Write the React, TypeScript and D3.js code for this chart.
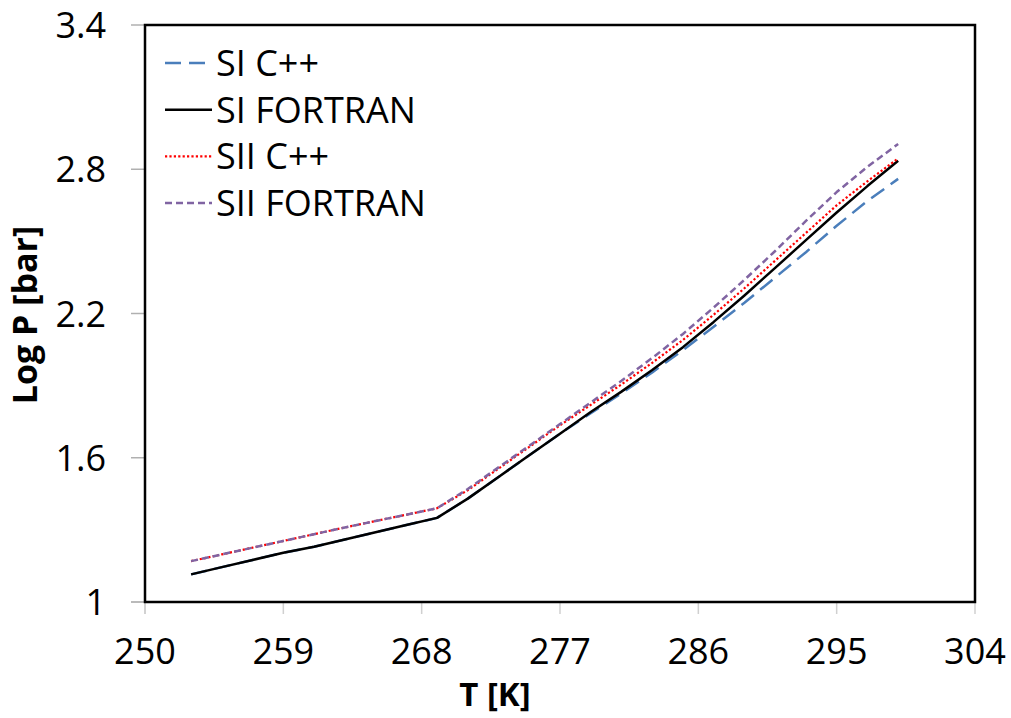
import React from "react";
import * as d3 from "d3";

const temps = [253, 255, 257, 259, 261, 263, 265, 267, 269, 271, 273, 275, 277, 279, 281, 283, 285, 287, 289, 291, 293, 295, 297, 299];

const siCpp = [1.115, 1.145, 1.175, 1.205, 1.230, 1.260, 1.290, 1.320, 1.350, 1.430, 1.520, 1.610, 1.700, 1.785, 1.868, 1.955, 2.048, 2.145, 2.245, 2.350, 2.455, 2.565, 2.668, 2.760];
const siFortran = [1.115, 1.145, 1.175, 1.205, 1.230, 1.260, 1.290, 1.320, 1.350, 1.430, 1.520, 1.610, 1.700, 1.790, 1.875, 1.965, 2.060, 2.165, 2.275, 2.390, 2.505, 2.620, 2.730, 2.835];
const siiCpp = [1.170, 1.198, 1.226, 1.254, 1.282, 1.310, 1.337, 1.363, 1.390, 1.465, 1.555, 1.645, 1.735, 1.820, 1.905, 1.995, 2.090, 2.195, 2.305, 2.420, 2.535, 2.650, 2.750, 2.845];
const siiFortran = [1.170, 1.198, 1.226, 1.254, 1.282, 1.310, 1.337, 1.363, 1.390, 1.470, 1.560, 1.650, 1.740, 1.830, 1.920, 2.015, 2.115, 2.225, 2.340, 2.460, 2.585, 2.705, 2.810, 2.905];

const seriesNames = ["SI C++", "SI FORTRAN", "SII C++", "SII FORTRAN"];
const xTicks = [250, 259, 268, 277, 286, 295, 304];
const yTicks = [1, 1.6, 2.2, 2.8, 3.4];

const styles = [
  { color: "#4A7EBB", dash: "16,8", width: 2.5 },
  { color: "#000000", dash: "", width: 2.5 },
  { color: "#FF0000", dash: "2.2,2.2", width: 2.2 },
  { color: "#8064A2", dash: "7,4", width: 2.5 },
];

const W = 1011, H = 718;
const L = 145, R = 975, T = 25, B = 602;
const FONT = "'Open Sans', 'Liberation Sans', sans-serif";

export default function App() {
  const x = d3.scaleLinear().domain([250, 304]).range([L, R]);
  const y = d3.scaleLinear().domain([1, 3.4]).range([B, T]);
  const allSeries = [siCpp, siFortran, siiCpp, siiFortran];
  const line = d3.line<number>().x((_, i) => x(temps[i])).y((d) => y(d));

  return (
    <svg width={W} height={H} style={{ position: "absolute", left: 0, top: 0, background: "#fff" }} fontFamily={FONT}>
      <rect x={0} y={0} width={W} height={H} fill="#fff" />
      {/* gray axis lines and ticks */}
      <line x1={L} x2={L} y1={T} y2={B + 12} stroke="#c8c8c8" strokeWidth={1.5} />
      <line x1={L - 14} x2={R} y1={B} y2={B} stroke="#c8c8c8" strokeWidth={1.5} />
      {yTicks.map((t) => (
        <line key={"yt" + t} x1={L - 14} x2={L} y1={y(t)} y2={y(t)} stroke="#b0b0b0" strokeWidth={1.5} />
      ))}
      {xTicks.map((t) => (
        <line key={"xt" + t} x1={x(t)} x2={x(t)} y1={B} y2={B + 12} stroke="#d0d0d0" strokeWidth={1.5} />
      ))}
      {/* series */}
      {allSeries.map((s, i) => (
        <path key={"s" + i} d={line(s) || ""} fill="none" stroke={styles[i].color}
          strokeWidth={styles[i].width} strokeDasharray={styles[i].dash || undefined}
          strokeLinejoin="round" />
      ))}
      {/* plot border */}
      <rect x={L} y={T} width={R - L} height={B - T} fill="none" stroke="#000" strokeWidth={2.5} />
      {/* tick labels */}
      {yTicks.map((t) => (
        <text key={"yl" + t} x={106} y={y(t) + 13} textAnchor="end" fontSize={36} fill="#000">
          {d3.format("~g")(t)}
        </text>
      ))}
      {xTicks.map((t) => (
        <text key={"xl" + t} x={x(t)} y={664} textAnchor="middle" fontSize={36} fill="#000">
          {t}
        </text>
      ))}
      {/* axis titles */}
      <text transform={`translate(37,315) rotate(-90)`} textAnchor="middle" fontSize={34} fontWeight="bold" fill="#000">
        Log P [bar]
      </text>
      <text x={495} y={706} textAnchor="middle" fontSize={33} fontWeight="bold" fill="#000">
        T [K]
      </text>
      {/* legend */}
      {seriesNames.map((n, i) => {
        const ly = 63 + i * 46.7;
        return (
          <g key={"lg" + i}>
            <line x1={165} x2={212} y1={ly} y2={ly} stroke={styles[i].color} strokeWidth={styles[i].width}
              strokeDasharray={styles[i].dash || undefined} />
            <text x={216} y={ly + 12.8} fontSize={36} fill="#000">{n}</text>
          </g>
        );
      })}
    </svg>
  );
}
